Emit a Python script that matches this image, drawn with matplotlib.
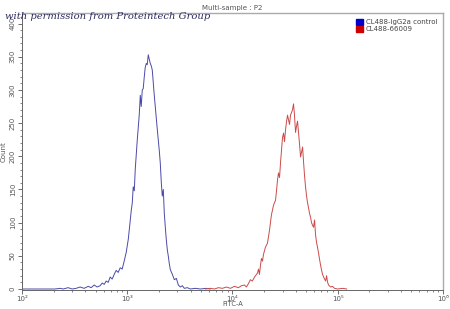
import numpy as np
import matplotlib
matplotlib.use("Agg")
import matplotlib.pyplot as plt
from matplotlib.patches import Patch
from matplotlib.ticker import MultipleLocator, LogLocator, NullFormatter

# log10(FITC-A) positions and counts
blue_log = [2.0, 2.004, 2.314, 2.362, 2.390, 2.438, 2.476, 2.514, 2.552, 2.590, 2.629, 2.657,
            2.686, 2.714, 2.743, 2.762, 2.781, 2.800, 2.819, 2.838, 2.857, 2.876, 2.895, 2.914,
            2.933, 2.952, 2.971, 2.990, 3.010, 3.029, 3.038, 3.048, 3.057, 3.067, 3.076, 3.095,
            3.114, 3.124, 3.133, 3.143, 3.152, 3.162, 3.171, 3.181, 3.190, 3.200, 3.210, 3.219,
            3.229, 3.238, 3.248, 3.257, 3.267, 3.286, 3.305, 3.314, 3.324, 3.333, 3.343, 3.352,
            3.362, 3.371, 3.381, 3.390, 3.400, 3.410, 3.429, 3.448, 3.467, 3.486, 3.505, 3.524,
            3.543, 3.571, 3.600, 3.648, 3.695, 3.752, 3.790]
blue_count = [44, 0, 0, 1, 0, 2, 0, 1, 3, 1, 4, 2,
              6, 3, 5, 9, 7, 12, 10, 18, 15, 22, 28, 25,
              32, 30, 42, 55, 75, 104, 118, 130, 154, 148, 180, 224,
              262, 292, 275, 300, 302, 320, 334, 340, 338, 353, 346, 340,
              336, 330, 310, 292, 274, 240, 208, 190, 160, 140, 150, 115,
              93, 75, 59, 50, 38, 29, 22, 14, 16, 6, 3, 5,
              1, 2, 0, 1, 0, 1, 0]

red_log = [3.743, 3.790, 3.829, 3.867, 3.905, 3.943, 3.981, 4.019, 4.057, 4.086, 4.114, 4.133,
           4.152, 4.171, 4.190, 4.210, 4.229, 4.238, 4.248, 4.257, 4.267, 4.276, 4.286, 4.295,
           4.314, 4.333, 4.352, 4.371, 4.381, 4.390, 4.410, 4.419, 4.429, 4.438, 4.448, 4.457,
           4.467, 4.476, 4.486, 4.495, 4.505, 4.514, 4.524, 4.533, 4.543, 4.552, 4.562, 4.571,
           4.581, 4.590, 4.600, 4.610, 4.619, 4.629, 4.638, 4.648, 4.657, 4.667, 4.676, 4.686,
           4.695, 4.705, 4.714, 4.724, 4.733, 4.743, 4.752, 4.762, 4.771, 4.781, 4.790, 4.800,
           4.810, 4.819, 4.829, 4.838, 4.848, 4.857, 4.867, 4.876, 4.886, 4.895, 4.905, 4.914,
           4.933, 4.952, 4.971, 5.000, 5.048, 5.086]
red_count = [0, 1, 0, 2, 1, 3, 1, 4, 2, 5, 6, 3,
             8, 14, 12, 18, 22, 24, 30, 22, 36, 46, 42, 52,
             63, 69, 88, 112, 119, 126, 134, 148, 165, 175, 168, 190,
             210, 228, 235, 222, 240, 252, 262, 255, 248, 262, 266, 270,
             279, 262, 236, 246, 253, 235, 218, 199, 206, 214, 192, 170,
             154, 140, 130, 122, 114, 108, 100, 96, 93, 104, 82, 70,
             62, 54, 44, 36, 28, 22, 18, 15, 12, 20, 10, 6,
             3, 4, 1, 0, 1, 0]

series_names = ["CL488-IgG2a control", "CL488-66009"]
line_colors = ["#4a4aa8", "#cc4a4a"]
legend_colors = ["#0000cc", "#cc0000"]

x_ticks = [1e2, 1e3, 1e4, 1e5, 1e6]
x_labels = ["10²", "10³", "10⁴", "10⁵", "10⁶"]

fig = plt.figure(figsize=(4.5, 3.09), dpi=100)
ax = fig.add_axes([0.049, 0.0615, 0.935, 0.8965])

ax.plot(10 ** np.array(blue_log), blue_count, color=line_colors[0], lw=0.7)
ax.plot(10 ** np.array(red_log), red_count, color=line_colors[1], lw=0.7)

ax.set_xscale("log")
ax.set_xlim(1e2, 1e6)
ax.set_ylim(-1.5, 416)
ax.set_xticks(x_ticks)
ax.set_xticklabels(x_labels)
ax.xaxis.set_minor_locator(LogLocator(base=10, subs=np.arange(2, 10)))
ax.xaxis.set_minor_formatter(NullFormatter())
ax.yaxis.set_major_locator(MultipleLocator(50))
ax.yaxis.set_minor_locator(MultipleLocator(10))

for lab in ax.get_yticklabels():
    lab.set_rotation(90)
    lab.set_va("center")
ax.tick_params(axis="both", which="major", labelsize=5, labelcolor="#555555",
               color="#555555", length=3, width=0.6, pad=1.5)
ax.tick_params(axis="x", which="major", labelsize=5, pad=1)
ax.tick_params(axis="both", which="minor", color="#555555", length=1.5, width=0.5)

for side in ["top", "right"]:
    ax.spines[side].set_color("#aaaaaa")
    ax.spines[side].set_linewidth(1.0)
for side in ["left", "bottom"]:
    ax.spines[side].set_color("#666666")
    ax.spines[side].set_linewidth(0.7)

ax.set_xlabel("FITC-A", fontsize=4.8, color="#555555", va="center")
ax.xaxis.set_label_coords(0.5, -0.049)
ax.set_ylabel("Count", fontsize=5, color="#555555", labelpad=2)
ax.set_title("Multi-sample : P2", fontsize=5, color="#555555", pad=2)

handles = [Patch(facecolor=c, edgecolor=c) for c in legend_colors]
ax.legend(handles, series_names, loc="upper right", fontsize=5, frameon=False,
          handlelength=1.0, handleheight=1.0, handletextpad=0.4, labelspacing=0.1,
          borderaxespad=0.4, labelcolor="#444444")

fig.text(0.012, 0.948, "with permission from Proteintech Group", fontsize=7.2,
         family="DejaVu Serif", style="italic", color="#2a2a5a", va="center")

fig.savefig("out.png", dpi=100)
